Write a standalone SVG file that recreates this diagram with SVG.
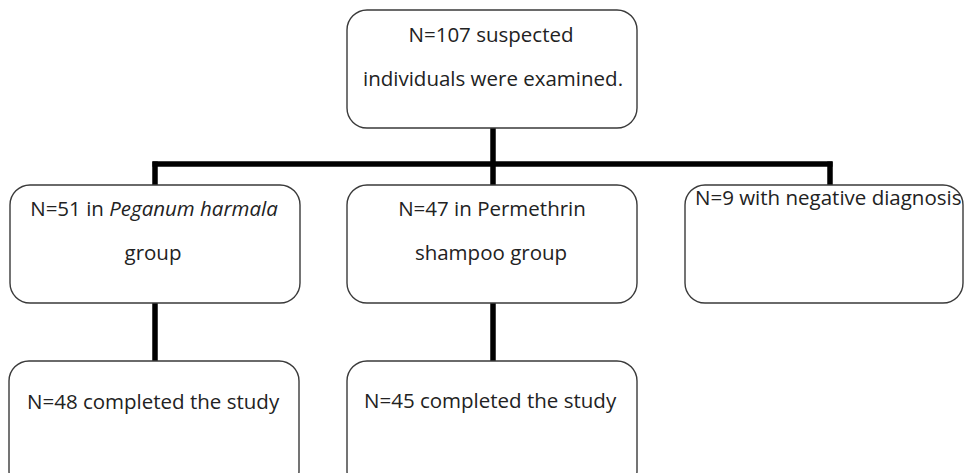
<svg xmlns="http://www.w3.org/2000/svg" width="965" height="473" viewBox="0 0 965 473">
<style>
.box{fill:#fff;stroke:#3a3a3a;stroke-width:1.4}
.lbl{font-family:"Open Sans","Liberation Sans",sans-serif;font-size:20.5px;fill:#222}
.c{text-anchor:middle}
.conn{stroke:#000;stroke-width:5.5;fill:none}
</style>
<rect width="965" height="473" fill="#fff"/>
<g id="connectors">
<line class="conn" x1="493" y1="128" x2="493" y2="185"/>
<line class="conn" x1="152.5" y1="164" x2="832.5" y2="164"/>
<line class="conn" x1="155" y1="161.5" x2="155" y2="185"/>
<line class="conn" x1="830" y1="161.5" x2="830" y2="185"/>
<line class="conn" x1="155" y1="303" x2="155" y2="361"/>
<line class="conn" x1="493" y1="303" x2="493" y2="361"/>
</g>
<g id="node-top">
<rect class="box" x="347" y="10" width="290" height="118" rx="20"/>
<text class="lbl c" x="491" y="42">N=107 suspected</text>
<text class="lbl c" x="493" y="86">individuals were examined.</text>
</g>
<g id="node-peganum">
<rect class="box" x="10" y="185" width="290" height="118" rx="20"/>
<text class="lbl c" x="154" y="216">N=51 in <tspan font-style="italic">Peganum harmala</tspan></text>
<text class="lbl c" x="153" y="260">group</text>
</g>
<g id="node-permethrin">
<rect class="box" x="347" y="185" width="290" height="118" rx="20"/>
<text class="lbl c" x="492" y="216">N=47 in Permethrin</text>
<text class="lbl c" x="491" y="260">shampoo group</text>
</g>
<g id="node-negative">
<rect class="box" x="685" y="185" width="278" height="118" rx="20"/>
<text class="lbl" x="695" y="205">N=9 with negative diagnosis</text>
</g>
<g id="node-completed-left">
<rect class="box" x="9" y="361" width="290" height="130" rx="20"/>
<text class="lbl" x="27" y="409">N=48 completed the study</text>
</g>
<g id="node-completed-mid">
<rect class="box" x="347" y="361" width="290" height="130" rx="20"/>
<text class="lbl" x="364" y="408">N=45 completed the study</text>
</g>
</svg>
